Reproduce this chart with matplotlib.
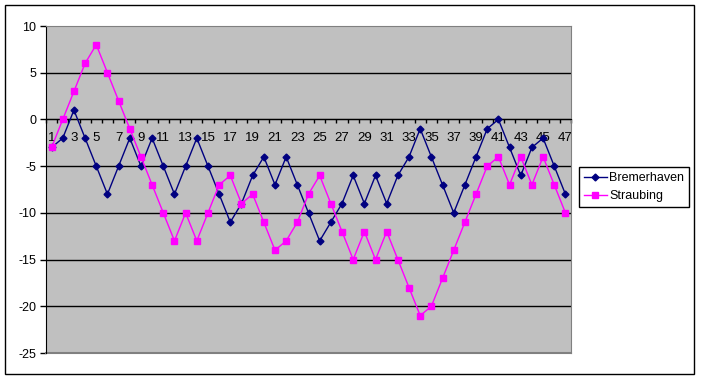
import matplotlib
matplotlib.use("Agg")
import matplotlib.pyplot as plt
from matplotlib.patches import Rectangle
import numpy as np

plt.rcParams['font.family'] = ['Liberation Sans', 'DejaVu Sans']
plt.rcParams['axes.unicode_minus'] = False

days = list(range(1, 48))
bremerhaven = [-3, -2, 1, -2, -5, -8, -5, -2, -5, -2,
               -5, -8, -5, -2, -5, -8, -11, -9, -6, -4,
               -7, -4, -7, -10, -13, -11, -9, -6, -9, -6,
               -9, -6, -4, -1, -4, -7, -10, -7, -4, -1,
               0, -3, -6, -3, -2, -5, -8]
straubing = [-3, 0, 3, 6, 8, 5, 2, -1, -4, -7,
             -10, -13, -10, -13, -10, -7, -6, -9, -8, -11,
             -14, -13, -11, -8, -6, -9, -12, -15, -12, -15,
             -12, -15, -18, -21, -20, -17, -14, -11, -8, -5,
             -4, -7, -4, -7, -4, -7, -10]
y_ticks = [-25, -20, -15, -10, -5, 0, 5, 10]

W, H = 701, 379
fig = plt.figure(figsize=(W / 100, H / 100), dpi=100)
ax = fig.add_axes([46 / W, 1 - 353 / H, (571 - 46) / W, (353 - 26) / H])
ax.set_facecolor('#C0C0C0')

ax.plot(days, bremerhaven, '-D', color='#000080', lw=1, ms=3.5, label='Bremerhaven', zorder=3)
ax.plot(days, straubing, '-s', color='#FF00FF', lw=1, ms=4, label='Straubing', zorder=3)

ax.set_xlim(0.5, 47.5)
ax.set_ylim(-25, 10)

# y axis
ax.set_yticks(y_ticks)
ax.tick_params(axis='y', direction='out', length=4, width=1, pad=3, labelsize=9, color='black')
ax.yaxis.grid(True, color='black', lw=1)
ax.set_axisbelow(True)
grid_lines = ax.get_ygridlines()
grid_lines[0].set_visible(False)
grid_lines[-1].set_visible(False)

# x axis on zero line, categories between tick marks
ax.spines['bottom'].set_position(('data', 0))
ax.spines['bottom'].set_color('black')
ax.set_xticks(days[::2])
ax.set_xticks(np.arange(0.5, 48, 1), minor=True)
ax.tick_params(axis='x', which='major', length=0, pad=9, labelsize=9.5)
ax.tick_params(axis='x', which='minor', direction='out', length=3, width=1, color='black')

ax.spines['left'].set_color('black')
for s in ['top', 'right']:
    ax.spines[s].set_color('#808080')
ax.axhline(-25, color='#808080', lw=1.5, clip_on=False, zorder=1)

leg = ax.legend(loc='upper left', bbox_to_anchor=(579 / W, 1 - 167 / H),
                bbox_transform=fig.transFigure, borderaxespad=0,
                frameon=True, fancybox=False, edgecolor='black', framealpha=1,
                fontsize=9, handlelength=1.8, handletextpad=0.2,
                borderpad=0.4, labelspacing=0.5)
leg.get_frame().set_linewidth(1)

fig.patches.append(Rectangle((5 / W, 5 / H), (694 - 5) / W, (374 - 5) / H,
                             transform=fig.transFigure, fill=False,
                             edgecolor='black', lw=1))

fig.savefig('out.png', dpi=100)
